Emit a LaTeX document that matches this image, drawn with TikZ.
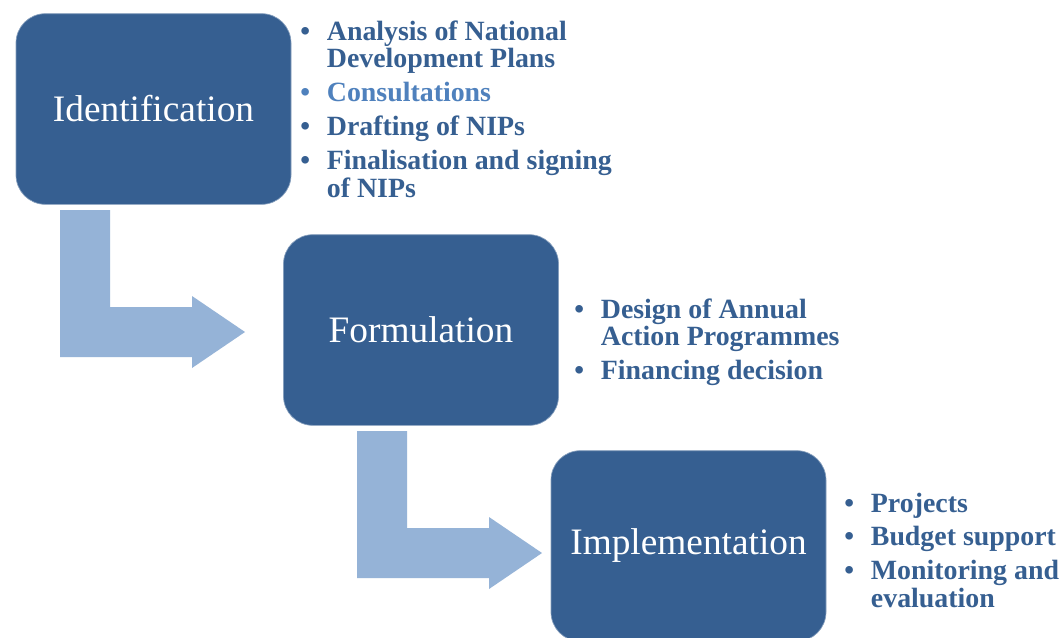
\documentclass[tikz,border=0pt]{standalone}
\usepackage{fontspec}
\setmainfont{Liberation Serif}
\definecolor{boxblue}{HTML}{365F91}
\definecolor{textblue}{HTML}{365F91}
\definecolor{lightblue}{HTML}{4F81BD}
\definecolor{arrowblue}{HTML}{95B3D7}
\newcommand\itm{\makebox[20pt][l]{\textbullet}}
\newcommand\itmc{\hspace*{20pt}}
\tikzset{
  stage/.style={draw=white!40!boxblue, line width=0.5pt, fill=boxblue,
    rounded corners=22pt, minimum width=206.25pt, minimum height=143pt,
    inner sep=0pt, text=white, font=\fontsize{28}{34}\selectfont},
  bullets/.style={anchor=base west, inner sep=0pt, text=textblue,
    font=\bfseries\fontsize{20.9}{20.25}\selectfont},
  elbow/.pic={\fill[arrowblue] (0,0) -- (50,0) -- (50,97) -- (132,97) -- (132,86)
    -- (185,122) -- (132,158) -- (132,147) -- (0,147) -- cycle;}
}
\begin{document}
\begin{tikzpicture}[x=0.75pt,y=-0.75pt]
\useasboundingbox (0,0) rectangle (1063,637);
\clip (0,0) rectangle (1063,637);
\fill[white] (0,0) rectangle (1063,637);

\pic (arr1) at (60,210) {elbow};
\pic (arr2) at (357,431) {elbow};

\node[stage] (ident) at (153.5,109) {Identification};
\node[stage] (form) at (421,330) {Formulation};
\node[stage] (impl) at (688.5,546) {Implementation};

\node[bullets] (list1) at (300,40) {\begin{tabular}[t]{@{}l@{}}
\itm Analysis of National\\
\itmc Development Plans\\[4.9pt]
{\color{lightblue}\itm Consultations}\\[4.9pt]
\itm Drafting of NIPs\\[4.9pt]
\itm Finalisation and signing\\
\itmc of NIPs
\end{tabular}};

\node[bullets] (list2) at (574,318) {\begin{tabular}[t]{@{}l@{}}
\itm Design of Annual\\
\itmc Action Programmes\\[4.9pt]
\itm Financing decision
\end{tabular}};

\node[bullets] (list3) at (844,512) {\begin{tabular}[t]{@{}l@{}}
\itm Projects\\[4.9pt]
\itm Budget support\\[4.9pt]
\itm Monitoring and\\
\itmc evaluation
\end{tabular}};
\end{tikzpicture}
\end{document}
